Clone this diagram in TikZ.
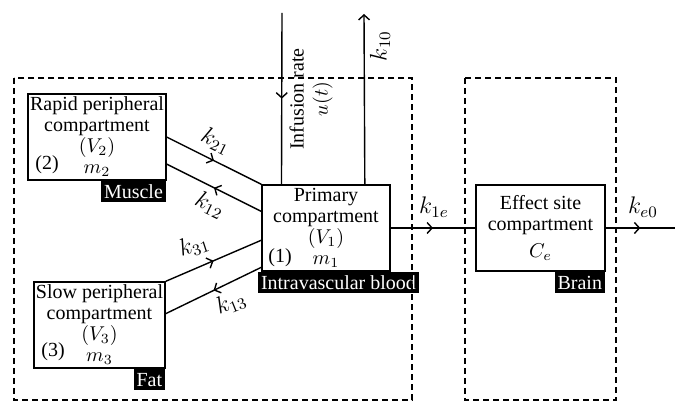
\documentclass[tikz,border=0pt]{standalone}
\usepackage{fontspec}
\setmainfont{Liberation Serif}
\usetikzlibrary{positioning,calc,arrows.meta,decorations.markings}

\begin{document}
\begin{tikzpicture}[x=0.5pt, y=-0.5pt, line width=0.7pt,
    font=\fontsize{10}{10.5}\selectfont,
    comp/.style={draw, rectangle, align=center, inner sep=1pt, minimum height=43pt},
    tag/.style={fill=black, text=white, inner xsep=1.5pt, inner ysep=1pt, minimum height=10.5pt},
    zone/.style={draw, dash pattern=on 3pt off 2pt, line width=0.6pt},
    flow/.style={postaction={decorate}, decoration={markings,
        mark=at position #1 with {\arrow{Straight Barb[length=2.5pt,width=5.5pt]}}}},
    flow/.default=0.5,
    rate/.style={inner sep=0.5pt, font=\fontsize{11.5}{12}\selectfont}]
    \useasboundingbox (0,0) rectangle (689,415);

    % compartments
    \node [comp, minimum width=67pt] (RP) at (97,137) {Rapid peripheral\\compartment\\$(V_2)$\\$m_2$};
    \node [comp, minimum width=64.5pt] (SP) at (99.5,325) {Slow peripheral\\compartment\\$(V_3)$\\$m_3$};
    \node [comp, minimum width=64pt] (PC) at (326,228) {Primary\\compartment\\$(V_1)$\\$m_1$};
    \node [comp, minimum width=64.5pt] (EC) at (540.5,228) {Effect site\\compartment\\[3pt]$C_e$};

    \node (n2) at (47,165) {(2)};
    \node (n3) at (53,352) {(3)};
    \node (n1) at (280,258) {(1)};

    % tissue tags
    \node [tag, anchor=north east] (MU) at (RP.south east) {Muscle};
    \node [tag, anchor=north east] (FA) at (SP.south east) {Fat};
    \node [tag, anchor=north west] (IB) at ([xshift=-2pt]PC.south west) {Intravascular blood};
    \node [tag, anchor=north east] (BR) at (EC.south east) {Brain};

    % dashed zones
    \draw [zone] (14,78) rectangle (412,400);
    \draw [zone] (465,78) rectangle (616,400);

    \coordinate (inf) at (282,13);
    \coordinate (out) at (364,14);
    \coordinate (elim) at (675,228);

    % exchanges
    \draw [flow] (RP.east) -- (PC.north west);
    \draw [flow] ($(PC.north west)!0.31!(PC.south west)$) -- ($(RP.north east)!0.81!(RP.south east)$);
    \draw [flow] (SP.north east) -- ($(PC.north west)!0.64!(PC.south west)$);
    \draw [flow] ($(PC.north west)!0.95!(PC.south west)$) -- ($(SP.north east)!0.37!(SP.south east)$);
    \draw [flow] (inf) -- ($(PC.north west)!0.156!(PC.north east)$); % infusion
    \draw [-{Straight Barb[length=2.5pt,width=5.5pt]}] ($(PC.north west)!0.8!(PC.north east)$) -- (out);
    \draw [flow] (PC.east) -- (EC.west);
    \draw [flow] (EC.east) -- (elim);

    % rate labels
    \node [rate, rotate=-26] (k21) at (216,141) {$k_{21}$};
    \node [rate, rotate=-26] (k12) at (210,205) {$k_{12}$};
    \node [rate, rotate=18] (k31) at (194,246) {$k_{31}$};
    \node [rate, rotate=22] (k13) at (231,303) {$k_{13}$};
    \node [rate] (k1e) at (434,207) {$k_{1e}$};
    \node [rate] (ke0) at (643,207) {$k_{e0}$};
    \node [rate, rotate=90] (k10) at (380,46) {$k_{10}$};
    \node [align=center, rotate=90, font=\fontsize{10}{12}\selectfont] (UR) at (311,99) {Infusion rate\\$u(t)$};
\end{tikzpicture}
\end{document}
